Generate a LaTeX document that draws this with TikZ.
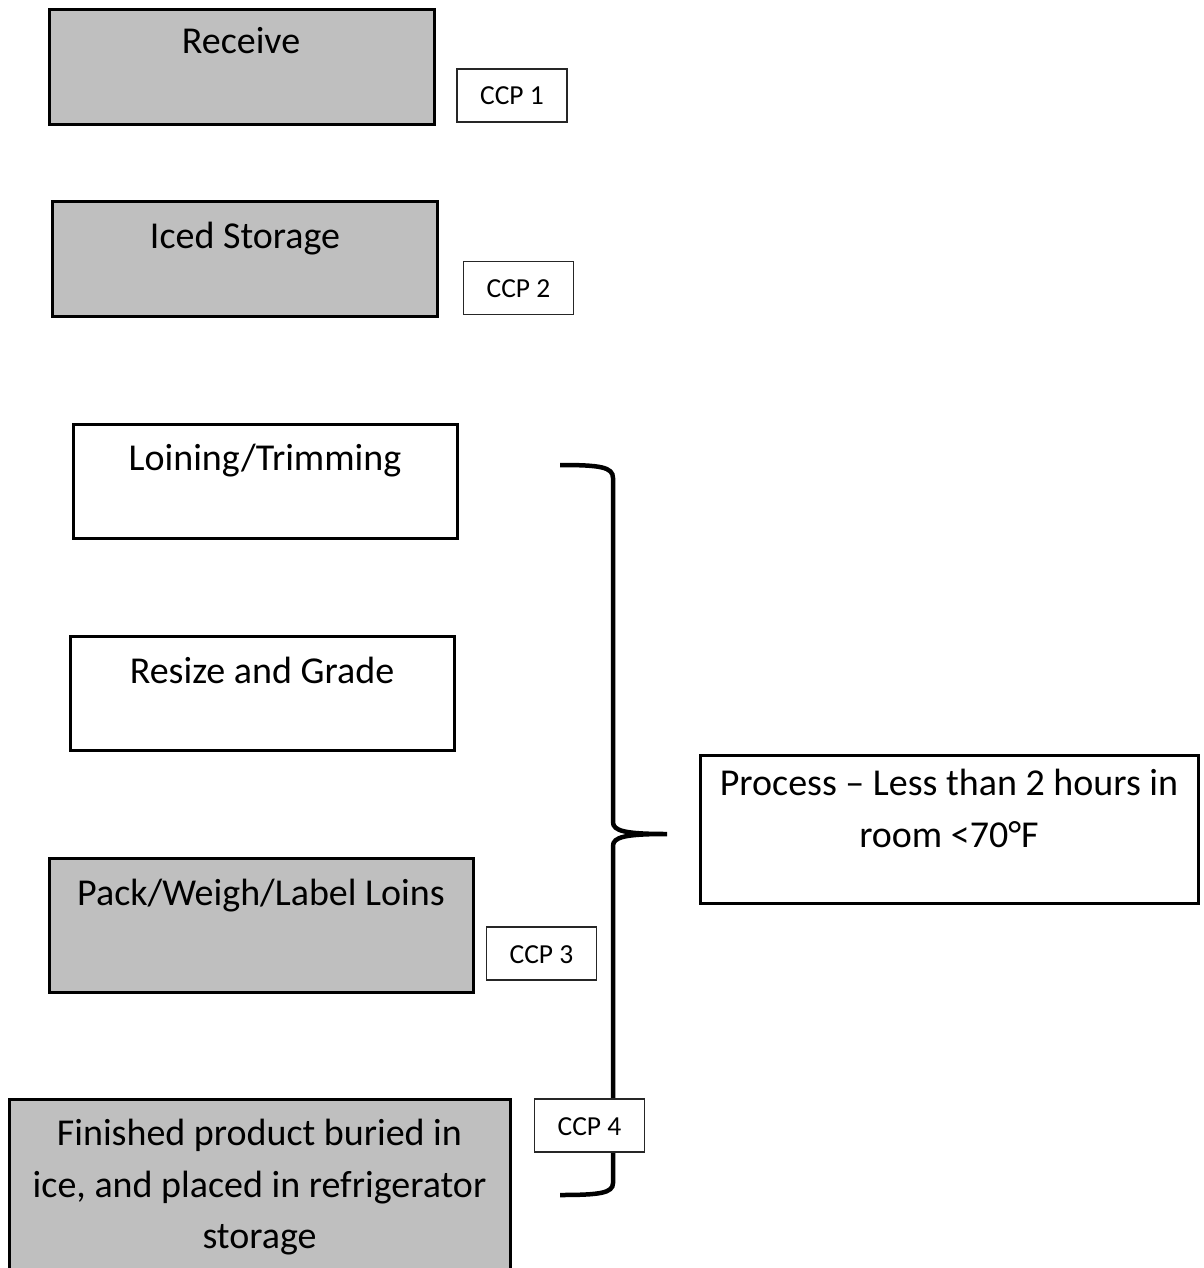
\documentclass[tikz,border=0pt]{standalone}
\usepackage{fontspec}
\setmainfont{Carlito}
\definecolor{boxgray}{RGB}{191,191,191}
\tikzset{
  mainbox/.style={draw=black, line width=3pt, rectangle, inner sep=0pt, outer sep=0pt, anchor=north west},
  graybox/.style={mainbox, fill=boxgray},
  whitebox/.style={mainbox, fill=white},
  ccpbox/.style={draw=black!85, line width=1.2pt, fill=white, rectangle, inner sep=0pt,
     minimum width=110pt, minimum height=53pt, text height=19pt, text depth=0pt,
     font=\fontsize{27.5}{32}\selectfont},
  txt/.style={anchor=base, inner sep=0pt, font=\fontsize{38}{52}\selectfont},
  bracestroke/.style={line width=4.5pt, black}
}
\begin{document}
\begin{tikzpicture}[x=1pt,y=-1pt]
\useasboundingbox (0,0) rectangle (1203,1268);
% main process boxes
\node[graybox, minimum width=385pt, minimum height=115pt] (rec) at (49.5,9.5) {};
\node[txt] (rect) at (241,54) {Receive};
\node[graybox, minimum width=385pt, minimum height=115pt] (ice) at (52.5,201.5) {};
\node[txt] (icet) at (245,248) {Iced Storage};
\node[whitebox, minimum width=384pt, minimum height=114pt] (loin) at (73.5,424.5) {};
\node[txt] (loint) at (265,470) {Loining/Trimming};
\node[whitebox, minimum width=384pt, minimum height=114pt] (resz) at (70.5,636.5) {};
\node[txt] (reszt) at (262,683) {Resize and Grade};
\node[graybox, minimum width=424pt, minimum height=134pt] (pack) at (49.5,858.5) {};
\node[txt] (packt) at (261,905) {Pack/Weigh/Label Loins};
\node[graybox, minimum width=501pt, minimum height=200pt] (fin) at (9.5,1099.5) {};
\node[txt] (fint1) at (259.5,1145) {Finished product buried in};
\node[txt] (fint2) at (259.5,1197) {ice, and placed in refrigerator};
\node[txt] (fint3) at (259.5,1248) {storage};
\node[whitebox, minimum width=498pt, minimum height=148pt] (proc) at (700.5,755.5) {};
\node[txt] (proct1) at (949,795) {Process -- Less than 2 hours in};
\node[txt] (proct2) at (949,847) {room <70°F};
% brace
\coordinate (btop) at (560,465);
\coordinate (btip) at (667,834);
\coordinate (bbot) at (560,1195);
\draw[bracestroke] (btop) .. controls (600,465) and (613,467) .. (613,478)
   -- (613,822) .. controls (613,831) and (625,834) .. (btip)
   .. controls (625,834) and (613,837) .. (613,846)
   -- (613,1183) .. controls (613,1193) and (600,1195) .. (bbot);
% CCP labels
\node[ccpbox] (ccp1) at (512,95.5) {CCP 1};
\node[ccpbox] (ccp2) at (518.5,288) {CCP 2};
\node[ccpbox] (ccp3) at (541.5,953.5) {CCP 3};
\node[ccpbox] (ccp4) at (589.5,1125.5) {CCP 4};
\end{tikzpicture}
\end{document}
